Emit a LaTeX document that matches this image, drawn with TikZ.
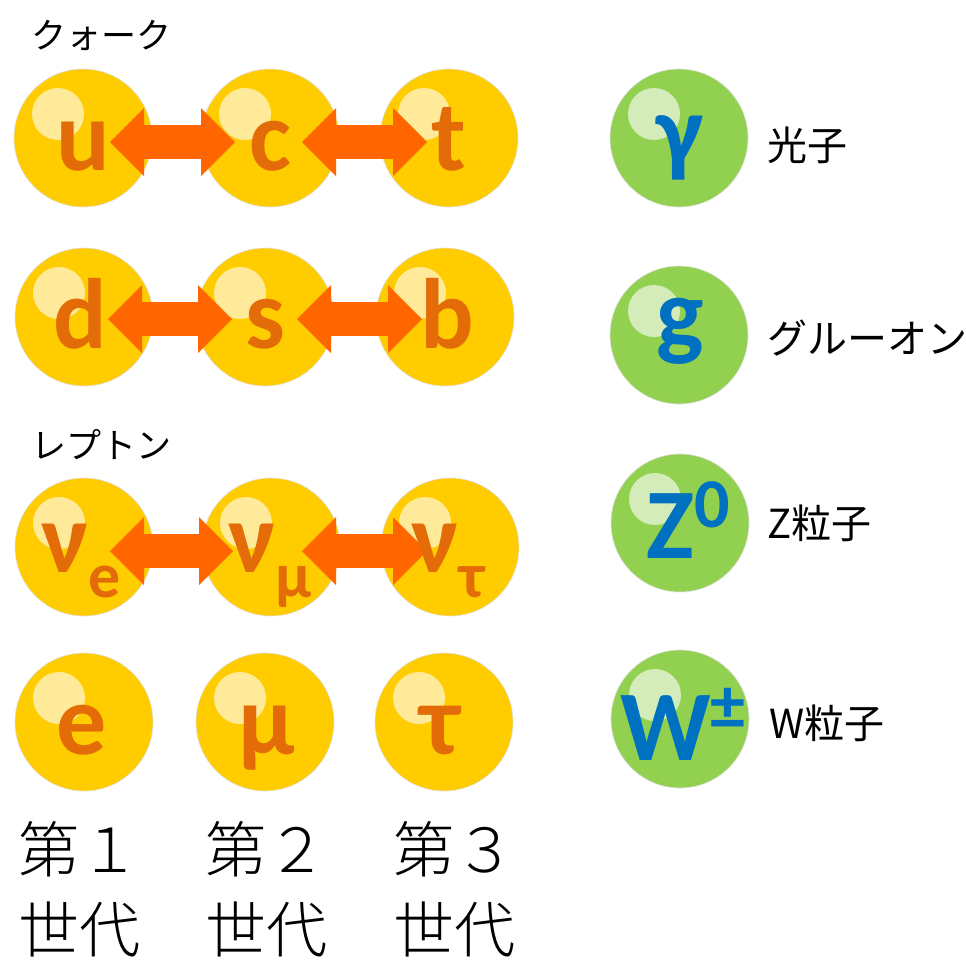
\documentclass[tikz,border=0pt]{standalone}
\usepackage{fontspec}
\usetikzlibrary{arrows.meta,calc}
\newfontfamily\cjkfont{Noto Sans CJK JP}
\newfontfamily\cjklight{Noto Sans CJK JP Light}
\newfontfamily\symfont{Carlito}
\definecolor{gold}{HTML}{FFCC00}
\definecolor{leaf}{HTML}{92D050}
\definecolor{rust}{HTML}{E36C09}
\definecolor{flame}{HTML}{FF6600}
\definecolor{azure}{HTML}{0070C0}
\newcommand{\lowsub}[1]{\raisebox{-25pt}{\fontsize{64}{64}\selectfont #1}}
\newcommand{\highsup}[1]{\raisebox{31pt}{\fontsize{70}{70}\selectfont #1}}

\begin{document}
\begin{tikzpicture}[x=1pt,y=-1pt,
  ball/.style={circle,minimum size=138pt,inner sep=0pt,draw=black!12,line width=0.6pt},
  fermion/.style={ball,fill=gold},
  boson/.style={ball,fill=leaf},
  shine/.style={fill=white,fill opacity=0.6},
  qsym/.style={anchor=base,inner sep=0pt,text=rust,font=\symfont\bfseries\fontsize{100}{100}\selectfont},
  bsym/.style={qsym,text=azure},
  mixarrow/.style={draw=flame,line width=34pt,
    {Triangle[length=34pt,width=68pt,line width=0pt]}-{Triangle[length=34pt,width=68pt,line width=0pt]}},
  grouptitle/.style={anchor=west,inner sep=0pt,font=\cjkfont\fontsize{35}{35}\selectfont},
  bosonname/.style={anchor=west,inner sep=0pt,font=\cjkfont\fontsize{40}{40}\selectfont},
  genlabel/.style={anchor=north west,inner sep=0pt,align=left,font=\cjklight\fontsize{61}{80}\selectfont}
]
\useasboundingbox (0,0) rectangle (966,959);

% ---- fermion balls ----
\node[fermion] (u) at (83,138) {};
\node[fermion] (c) at (270,138) {};
\node[fermion] (t) at (449,138) {};
\node[fermion] (d) at (84,317) {};
\node[fermion] (s) at (265,317) {};
\node[fermion] (b) at (445,317) {};
\node[fermion] (nue) at (84,547) {};
\node[fermion] (numu) at (271,547) {};
\node[fermion] (nutau) at (450,547) {};
\node[fermion] (e) at (84,722) {};
\node[fermion] (mu) at (265,722) {};
\node[fermion] (tau) at (444,722) {};

% ---- boson balls ----
\node[boson] (gamma) at (679,138) {};
\node[boson] (gluon) at (679,335) {};
\node[boson] (zb) at (680,523) {};
\node[boson] (wb) at (680,719) {};

% highlights
\foreach \n in {u,c,t,d,s,b,nue,numu,nutau,e,mu,tau,gamma,gluon,zb,wb}
  \fill[shine] ($(\n)+(-25,-24)$) circle (26);

% ---- generation-changing arrows ----
\draw[mixarrow] ($(u)+(27,4)$) -- ($(c)+(-35,4)$);
\draw[mixarrow] ($(c)+(32,4)$) -- ($(t)+(-22,4)$);
\draw[mixarrow] ($(d)+(24,2)$) -- ($(s)+(-33,2)$);
\draw[mixarrow] ($(s)+(32,2)$) -- ($(b)+(-23,2)$);
\draw[mixarrow] ($(nue)+(26,4)$) -- ($(numu)+(-38,4)$);
\draw[mixarrow] ($(numu)+(31,4)$) -- ($(nutau)+(-23,4)$);

% ---- symbols ----
\node[qsym] (u-s) at ($(u)+(0,32)$) {u};
\node[qsym] (c-s) at ($(c)+(0,32)$) {c};
\node[qsym] (t-s) at ($(t)+(0,32)$) {t};
\node[qsym] (d-s) at ($(d)+(-4,31)$) {d};
\node[qsym] (s-s) at ($(s)+(0,31)$) {s};
\node[qsym] (b-s) at ($(b)+(2,31)$) {b};
\node[qsym] (nue-s) at ($(nue)+(-3,25)$) {ν\lowsub{e}};
\node[qsym] (numu-s) at ($(numu)+(-1,25)$) {ν\lowsub{μ}};
\node[qsym] (nutau-s) at ($(nutau)+(-2,25)$) {ν\lowsub{τ}};
\node[qsym] (e-s) at ($(e)+(-2,32)$) {e};
\node[qsym] (mu-s) at ($(mu)+(2,32)$) {μ};
\node[qsym] (tau-s) at ($(tau)+(-4,32)$) {τ};

\node[bsym] (gamma-s) at ($(gamma)+(1,26)$) {γ};
\node[bsym] (gluon-s) at ($(gluon)+(1,12)$) {g};
\node[bsym] (zb-s) at ($(zb)+(8,35)$) {Z\highsup{0}};
\node[bsym] (wb-s) at ($(wb)+(3,41)$) {W\highsup{±}};

% ---- texts ----
\node[grouptitle] (quarks) at (31,35) {クォーク};
\node[grouptitle] (leptons) at (31,445) {レプトン};

\node[bosonname] (gamma-n) at (767,145) {光子};
\node[bosonname] (gluon-n) at (767,338) {グルーオン};
\node[bosonname] (zb-n) at (767,523) {Z粒子};
\node[bosonname] (wb-n) at (769,723) {W粒子};

\node[genlabel] (gen1) at (18,821) {第１\\世代};
\node[genlabel] (gen2) at (205,821) {第２\\世代};
\node[genlabel] (gen3) at (393,821) {第３\\世代};
\end{tikzpicture}
\end{document}
